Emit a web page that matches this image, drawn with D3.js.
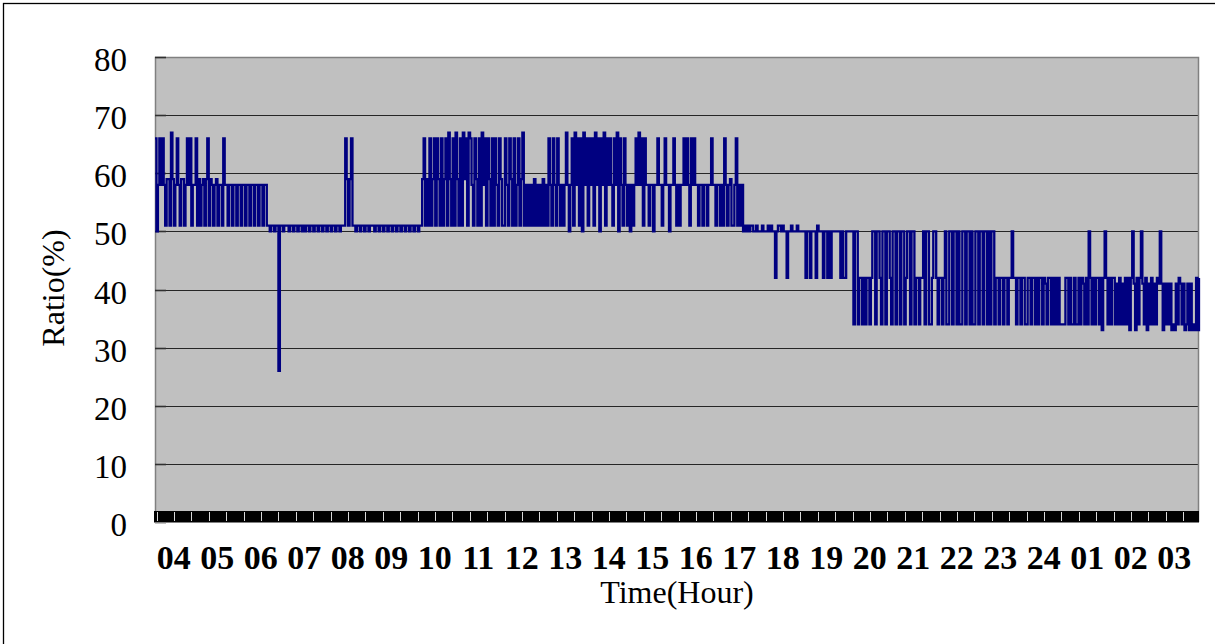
<!DOCTYPE html>
<html>
<head>
<meta charset="utf-8">
<script src="https://cdn.jsdelivr.net/npm/d3@7"></script>
<style>
  body { margin: 0; background: #fff; }
  svg text { font-family: "Liberation Serif", "Times New Roman", serif; fill: #000; }
</style>
</head>
<body>
<div id="chart"></div>
<script>
// hour labels along the bottom (the day starts at 04)
const hourLabels = ["04", "05", "06", "07", "08", "09", "10", "11", "12", "13", "14", "15",
  "16", "17", "18", "19", "20", "21", "22", "23", "24", "01", "02", "03"]

const yTicks = [0, 10, 20, 30, 40, 50, 60, 70, 80]

// ratio readings, 30 per hour (one every 2 minutes)
const ratio04 = [66, 50, 58, 66, 58, 66, 58, 51, 59, 59, 51, 67, 59, 51, 58, 66, 58, 51, 59, 59, 51, 58, 66, 58, 66, 51, 58, 58, 66, 51]
const ratio05 = [59, 51, 58, 59, 51, 59, 66, 51, 59, 58, 51, 58, 59, 51, 58, 58, 51, 66, 58, 58, 51, 58, 58, 51, 58, 58, 51, 58, 58, 51]
const ratio06 = [58, 58, 51, 58, 58, 51, 58, 58, 51, 58, 58, 51, 58, 58, 51, 58, 58, 51, 51, 50, 51, 51, 50, 51, 51, 26, 51, 51, 50, 51]
const ratio07 = [51, 51, 50, 51, 51, 50, 51, 51, 50, 51, 51, 50, 51, 50, 51, 51, 50, 51, 51, 50, 51, 51, 50, 51, 51, 50, 51, 51, 50, 51]
const ratio08 = [51, 50, 51, 51, 50, 51, 51, 50, 51, 51, 51, 66, 59, 51, 59, 66, 51, 51, 50, 51, 51, 50, 51, 51, 50, 51, 51, 50, 51, 51]
const ratio09 = [51, 50, 51, 51, 50, 51, 51, 50, 51, 51, 50, 51, 51, 50, 51, 51, 50, 51, 51, 50, 51, 51, 50, 51, 51, 50, 51, 51, 50, 51]
const ratio10 = [51, 50, 51, 51, 59, 66, 51, 59, 51, 66, 51, 59, 66, 51, 66, 59, 51, 66, 51, 59, 66, 51, 67, 59, 51, 66, 51, 67, 59, 51]
const ratio11 = [66, 51, 67, 59, 66, 51, 67, 66, 58, 51, 66, 59, 51, 66, 51, 67, 58, 66, 51, 66, 59, 51, 66, 51, 66, 58, 51, 66, 59, 51]
const ratio12 = [51, 66, 58, 51, 66, 59, 51, 66, 51, 58, 66, 51, 59, 67, 51, 58, 51, 58, 51, 58, 51, 59, 51, 58, 51, 58, 51, 59, 51, 58]
const ratio13 = [51, 66, 58, 51, 66, 58, 51, 66, 58, 51, 58, 51, 58, 67, 58, 50, 58, 66, 51, 67, 58, 66, 51, 66, 50, 67, 58, 66, 51, 66]
const ratio14 = [58, 66, 51, 67, 58, 66, 50, 66, 58, 67, 51, 66, 58, 66, 58, 51, 66, 58, 67, 50, 66, 58, 51, 66, 58, 51, 58, 50, 58, 51]
const ratio15 = [58, 66, 58, 67, 58, 66, 51, 66, 58, 58, 51, 58, 58, 50, 58, 58, 66, 58, 58, 51, 58, 66, 58, 58, 50, 58, 58, 66, 58, 51]
const ratio16 = [58, 51, 58, 58, 66, 58, 66, 58, 51, 66, 58, 66, 58, 58, 51, 58, 58, 51, 58, 58, 51, 58, 58, 66, 58, 58, 51, 58, 58, 51]
const ratio17 = [58, 51, 66, 58, 51, 58, 59, 51, 51, 58, 66, 51, 58, 51, 58, 50, 51, 50, 51, 50, 51, 51, 50, 50, 51, 50, 50, 50, 51, 50]
const ratio18 = [50, 50, 51, 50, 51, 50, 50, 42, 50, 51, 51, 50, 51, 50, 50, 42, 50, 50, 51, 50, 50, 50, 51, 50, 50, 50, 50, 50, 42, 50]
const ratio19 = [50, 42, 50, 50, 50, 42, 51, 50, 50, 50, 42, 50, 50, 42, 50, 42, 50, 50, 50, 50, 50, 50, 42, 50, 42, 42, 50, 50, 50, 50]
const ratio20 = [50, 34, 50, 50, 34, 42, 42, 34, 42, 34, 42, 42, 34, 42, 50, 50, 34, 50, 50, 42, 34, 50, 50, 34, 50, 50, 42, 34, 50, 50]
const ratio21 = [34, 50, 50, 34, 50, 50, 34, 42, 50, 50, 34, 50, 50, 34, 42, 42, 34, 42, 42, 50, 34, 50, 50, 34, 34, 42, 50, 50, 42, 34]
const ratio22 = [42, 42, 34, 42, 50, 34, 34, 50, 50, 34, 50, 50, 34, 50, 34, 34, 50, 50, 34, 50, 50, 34, 50, 34, 34, 50, 50, 34, 50, 50]
const ratio23 = [34, 50, 50, 34, 50, 34, 50, 50, 34, 42, 42, 34, 42, 42, 34, 42, 42, 34, 42, 42, 50, 42, 42, 34, 42, 42, 34, 42, 42, 34]
const ratio24 = [34, 42, 42, 34, 42, 42, 34, 42, 34, 42, 42, 34, 42, 41, 34, 42, 42, 34, 42, 34, 42, 34, 42, 34, 34, 34, 34, 42, 42, 34]
const ratio01 = [42, 34, 34, 42, 34, 34, 42, 34, 42, 41, 34, 42, 34, 50, 42, 34, 42, 34, 42, 42, 34, 42, 33, 42, 50, 42, 34, 42, 34, 42]
const ratio02 = [42, 34, 41, 34, 42, 34, 41, 34, 42, 34, 42, 33, 42, 50, 41, 33, 42, 34, 42, 50, 41, 34, 42, 33, 41, 34, 42, 34, 41, 34]
const ratio03 = [42, 41, 50, 41, 33, 41, 34, 41, 34, 41, 33, 34, 33, 41, 34, 42, 41, 34, 41, 33, 34, 41, 33, 41, 33, 34, 33, 42, 33, 42]

const ratioByHour = [ratio04, ratio05, ratio06, ratio07, ratio08, ratio09, ratio10, ratio11,
  ratio12, ratio13, ratio14, ratio15, ratio16, ratio17, ratio18, ratio19, ratio20, ratio21,
  ratio22, ratio23, ratio24, ratio01, ratio02, ratio03]

const config = {
  width: 1215,
  height: 644,
  margin: {
    top: 57,
    right: 16,
    bottom: 122,
    left: 155
  },
  plotColor: "#c0c0c0",
  gridColor: "#262626",
  borderColor: "#808080",
  lineColor: "#000080",
  tickBandHeight: 11,
  tickBandSteps: 60
}

function drawChart () {
  const chartWidth = config.width - config.margin.left - config.margin.right
  const chartHeight = config.height - config.margin.top - config.margin.bottom
  const values = ratioByHour.flat()

  const x = d3.scaleLinear()
    .domain([0, values.length - 1])
    .range([0, chartWidth])

  const xHour = d3.scaleBand()
    .domain(hourLabels)
    .range([0, chartWidth])

  const y = d3.scaleLinear()
    .domain([0, 80])
    .range([chartHeight, 0])

  const svg = d3.select("#chart").append("svg")
      .attr("width", config.width)
      .attr("height", config.height)

  // outer frame
  svg.append("rect")
    .attr("x", 3.5)
    .attr("y", 3.5)
    .attr("width", config.width + 10)
    .attr("height", config.height + 10)
    .attr("fill", "#fff")
    .attr("stroke", "#000")
    .attr("stroke-width", 1.3)

  const g = svg.append("g")
      .attr("transform", `translate(${config.margin.left},${config.margin.top})`)

  g.append("rect")
    .attr("width", chartWidth)
    .attr("height", chartHeight)
    .attr("fill", config.plotColor)

  // horizontal gridlines
  g.append("g")
    .selectAll("line")
    .data(yTicks.filter(d => d > 0 && d < 80))
    .join("line")
      .attr("x1", 0)
      .attr("x2", chartWidth)
      .attr("y1", d => Math.round(y(d)) + 0.5)
      .attr("y2", d => Math.round(y(d)) + 0.5)
      .attr("stroke", config.gridColor)
      .attr("stroke-width", 1)

  // plot border (top / right) and the y axis line
  g.append("path")
    .attr("d", `M0.5,${chartHeight}V0.5H${chartWidth - 0.5}V${chartHeight}`)
    .attr("fill", "none")
    .attr("stroke", config.borderColor)
    .attr("stroke-width", 1.5)

  // small inside tick marks on the value axis
  g.append("g")
    .selectAll("line")
    .data(yTicks)
    .join("line")
      .attr("x1", 0)
      .attr("x2", 11)
      .attr("y1", d => Math.round(y(d)) + 0.5)
      .attr("y2", d => Math.round(y(d)) + 0.5)
      .attr("stroke", "#303030")
      .attr("stroke-width", 1.6)

  // the ratio line, drawn as steps so every change is a vertical stroke
  const line = d3.line()
    .x((d, i) => x(i))
    .y(d => y(d))
    .curve(d3.curveStepAfter)

  g.append("path")
    .datum(values)
    .attr("d", line)
    .attr("fill", "none")
    .attr("stroke", config.lineColor)
    .attr("stroke-width", 2.3)
    .attr("stroke-linejoin", "miter")

  // dense category tick marks along the bottom
  const band = g.append("g")
      .attr("transform", `translate(0,${chartHeight - config.tickBandHeight})`)

  band.append("rect")
    .attr("x", -1)
    .attr("width", chartWidth + 1)
    .attr("height", config.tickBandHeight)
    .attr("fill", "#000")

  const tickStep = d3.scaleLinear()
    .domain([0, config.tickBandSteps])
    .range([1.5, chartWidth + 1.5])

  band.selectAll(".gap")
    .data(d3.range(config.tickBandSteps))
    .join("line")
      .attr("class", "gap")
      .attr("x1", d => Math.round(tickStep(d)) + 0.5)
      .attr("x2", d => Math.round(tickStep(d)) + 0.5)
      .attr("y1", 1)
      .attr("y2", config.tickBandHeight - 1)
      .attr("stroke", "#d8d8d8")
      .attr("stroke-width", 1)

  g.append("line")
    .attr("x1", -1)
    .attr("x2", chartWidth)
    .attr("y1", chartHeight + 0.5)
    .attr("y2", chartHeight + 0.5)
    .attr("stroke", "#808080")

  // value axis labels
  const yAxis = g.append("g")
      .call(d3.axisLeft(y).tickValues(yTicks).tickSize(0).tickPadding(28))

  yAxis.select(".domain").remove()
  yAxis.selectAll("text")
    .attr("dy", "0.41em")
    .style("font-size", "33px")
    .style("font-family", "'Liberation Serif', serif")

  // hour labels
  const xAxis = g.append("g")
      .attr("transform", `translate(-3,${chartHeight})`)
      .call(d3.axisBottom(xHour).tickSize(0).tickPadding(23))

  xAxis.select(".domain").remove()
  xAxis.selectAll("text")
    .style("font-size", "34px")
    .style("font-weight", "bold")
    .style("font-family", "'Liberation Serif', serif")

  // axis titles
  svg.append("text")
    .attr("x", config.margin.left + chartWidth / 2)
    .attr("y", 603)
    .attr("text-anchor", "middle")
    .style("font-size", "32px")
    .text("Time(Hour)")

  svg.append("text")
    .attr("transform", "translate(64,288) rotate(-90)")
    .attr("text-anchor", "middle")
    .style("font-size", "32px")
    .text("Ratio(%)")
}

drawChart()
</script>
</body>
</html>
